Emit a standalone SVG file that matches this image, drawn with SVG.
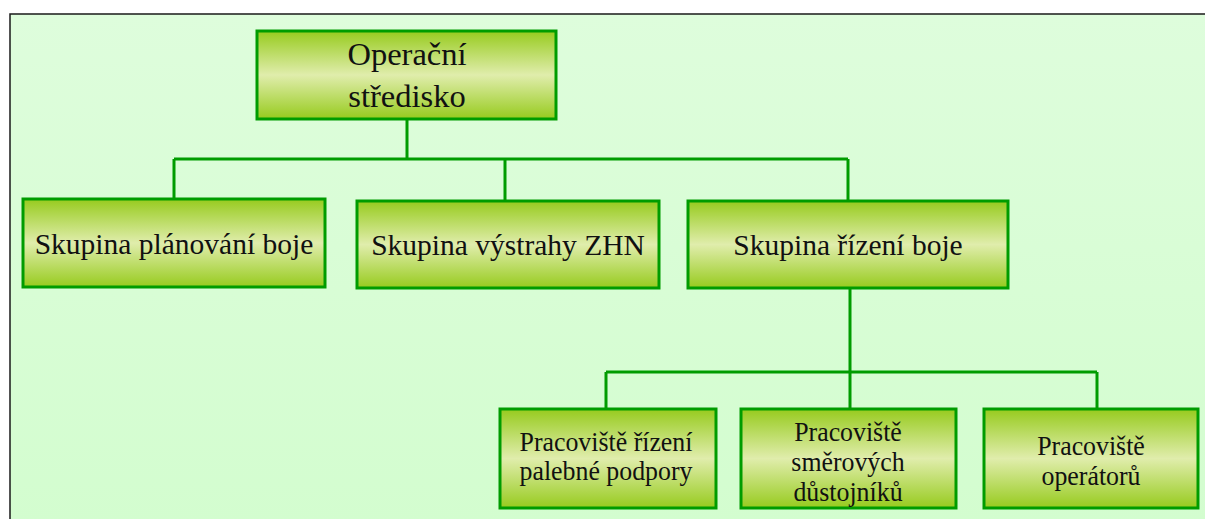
<svg xmlns="http://www.w3.org/2000/svg" width="1205" height="519" viewBox="0 0 1205 519">
<defs>
<linearGradient id="bg" x1="0" y1="0" x2="0" y2="1">
<stop offset="0" stop-color="#DEFDDC"/>
<stop offset="1" stop-color="#D3FDCF"/>
</linearGradient>
<linearGradient id="box" x1="0" y1="0" x2="0" y2="1">
<stop offset="0" stop-color="#97CB1E"/>
<stop offset="0.5" stop-color="#E0EDAC"/>
<stop offset="1" stop-color="#97CB1E"/>
</linearGradient>
<style>
.n{fill:url(#box);stroke:#009C00;stroke-width:3}
.c{stroke:#009C00;stroke-width:3;fill:none}
text{font-family:'Liberation Serif','DejaVu Serif',serif;fill:#111;text-anchor:middle}
.t1{font-size:32.5px}
.t2{font-size:29.5px}
.t3{font-size:27.5px}
</style>
</defs>
<rect x="10" y="14" width="1200" height="510" fill="url(#bg)" stroke="#1a1a1a" stroke-width="1.5"/>
<g id="connectors">
<path class="c" d="M407 119V159M174 159H848M174 159V200M505 159V201M848 159V201"/>
<path class="c" d="M850 288V372M606 372H1097M606 372V409M850 372V409M1097 372V409"/>
</g>
<g id="n-operacni">
<rect class="n" x="257" y="31" width="299" height="88"/>
<text class="t1" x="407" y="65">Operační</text>
<text class="t1" x="407" y="107">středisko</text>
</g>
<g id="n-planovani">
<rect class="n" x="23" y="199" width="302" height="88"/>
<text class="t2" x="174" y="254">Skupina plánování boje</text>
</g>
<g id="n-vystrahy">
<rect class="n" x="357" y="201" width="302" height="87"/>
<text class="t2" x="508" y="255">Skupina výstrahy ZHN</text>
</g>
<g id="n-rizeni">
<rect class="n" x="688" y="201" width="320" height="87"/>
<text class="t2" x="848" y="255">Skupina řízení boje</text>
</g>
<g id="n-palebne">
<rect class="n" x="500" y="409" width="216" height="99"/>
<text class="t3" transform="translate(606 451) scale(0.94 1)">Pracoviště řízení</text>
<text class="t3" transform="translate(606 480) scale(0.94 1)">palebné podpory</text>
</g>
<g id="n-smerovych">
<rect class="n" x="741" y="409" width="215" height="99"/>
<text class="t3" transform="translate(848 441) scale(0.94 1)">Pracoviště</text>
<text class="t3" transform="translate(848 471) scale(0.94 1)">směrových</text>
<text class="t3" transform="translate(848 501) scale(0.94 1)">důstojníků</text>
</g>
<g id="n-operatoru">
<rect class="n" x="984" y="409" width="214" height="99"/>
<text class="t3" transform="translate(1091 455) scale(0.94 1)">Pracoviště</text>
<text class="t3" transform="translate(1091 485) scale(0.94 1)">operátorů</text>
</g>
</svg>
